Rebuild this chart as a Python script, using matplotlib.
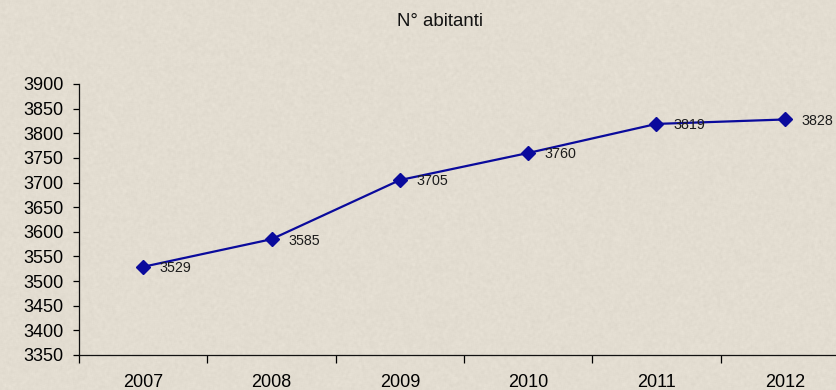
import numpy as np
import matplotlib
matplotlib.use("Agg")
import matplotlib.pyplot as plt
from matplotlib.ticker import MultipleLocator, FixedLocator, NullFormatter

# ── data ──────────────────────────────────────────────────────────────────────
ANNI     = ["2007", "2008", "2009", "2010", "2011", "2012"]
ABITANTI = [3529, 3585, 3705, 3760, 3819, 3828]

BG   = "#E3DDD1"
NAVY = "#0A0A9C"

plt.rcParams["font.family"] = ["Liberation Sans", "DejaVu Sans"]

W, H = 836, 390
fig = plt.figure(figsize=(W / 100, H / 100), dpi=100, facecolor=BG)

# parchment-like paper grain behind everything
rng = np.random.default_rng(7)
grain = rng.normal(0, 1, (H, W))
k = np.ones(3) / 3
grain = np.apply_along_axis(lambda r: np.convolve(r, k, mode="same"), 1, grain)
grain = np.apply_along_axis(lambda c: np.convolve(c, k, mode="same"), 0, grain)
base = np.array([227, 221, 209], float) / 255
tex = np.clip(base[None, None, :] + 0.018 * grain[:, :, None], 0, 1)
fig.figimage(tex, xo=0, yo=0, zorder=-10)

ax = fig.add_axes([79 / W, 1 - 355 / H, 770 / W, 271 / H], zorder=2)
ax.patch.set_alpha(0)

x = list(range(len(ANNI)))
ax.plot(x, ABITANTI, color=NAVY, linewidth=1.6, marker="D", markersize=7,
        markerfacecolor=NAVY, markeredgecolor=NAVY)

for xi, v in zip(x, ABITANTI):
    ax.annotate(str(v), (xi, v), xytext=(12, -1), textcoords="offset points",
                ha="left", va="center", fontsize=10.3, color="#1c1c1c")

ax.set_xlim(-0.5, len(ANNI) - 0.5)
ax.set_ylim(3350, 3900)
ax.yaxis.set_major_locator(MultipleLocator(50))

ax.set_xticks(x)
ax.set_xticklabels(ANNI)
ax.xaxis.set_minor_locator(FixedLocator([i + 0.5 for i in range(-1, len(ANNI))]))
ax.xaxis.set_minor_formatter(NullFormatter())
ax.tick_params(axis="x", which="major", length=0, pad=13.5, labelsize=13)
ax.tick_params(axis="x", which="minor", length=6, direction="out", width=0.9)
ax.tick_params(axis="y", which="major", length=4, direction="out", width=0.9,
               labelsize=13, pad=7)

for s in ("top", "right"):
    ax.spines[s].set_visible(False)
for s in ("left", "bottom"):
    ax.spines[s].set_linewidth(0.9)
    ax.spines[s].set_color("#111111")

fig.text(440 / W, 1 - 21 / H, "N° abitanti", ha="center", va="center",
         fontsize=13.4, color="#111111", zorder=3)

fig.savefig("out.png", dpi=100, facecolor=BG)
